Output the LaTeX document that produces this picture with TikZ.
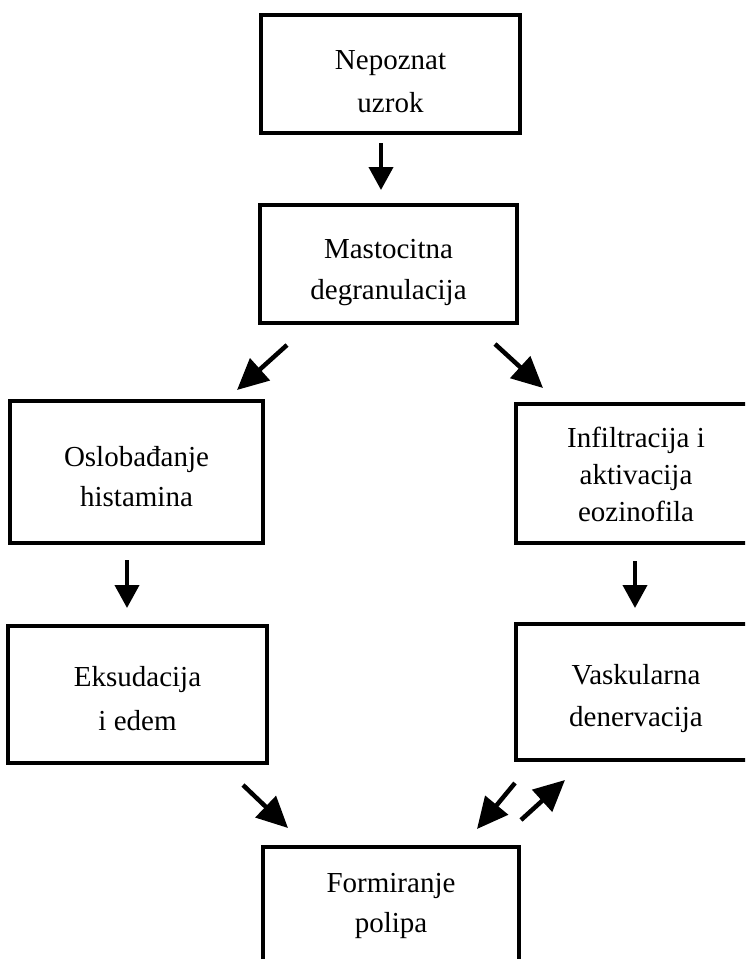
\documentclass[tikz,border=0pt]{standalone}
\usepackage{fontspec}
\setmainfont{Liberation Serif}
\usetikzlibrary{arrows.meta}
\begin{document}
\begin{tikzpicture}[x=1pt,y=-1pt,
  box/.style={draw, line width=3.2pt, inner sep=0pt, align=center, text depth=0pt, font=\fontsize{29}{42}\selectfont},
  dn/.style={-{Triangle[length=23pt,width=24pt]}, line width=4pt},
  dg/.style={-{Triangle[length=31pt,width=29pt]}, line width=4.5pt}]
\useasboundingbox (0,0) rectangle (745,959);
\clip (0,0) rectangle (745,959);
\fill[white] (0,0) rectangle (745,959);
% boxes
\node[box, minimum width=259pt, minimum height=118pt, text height=76pt, font=\fontsize{29}{43}\selectfont] (n1) at (390.5,74) {Nepoznat\\uzrok};
\node[box, minimum width=257pt, minimum height=118pt, text height=70pt, font=\fontsize{29}{41}\selectfont] (n2) at (388.5,264) {Mastocitna\\degranulacija};
\node[box, minimum width=253pt, minimum height=142pt, text height=68pt, font=\fontsize{29}{40}\selectfont] (n3) at (136.5,472) {Oslobađanje\\histamina};
\node[box, minimum width=240pt, minimum height=139pt, text height=96pt, font=\fontsize{29}{37}\selectfont] (n4) at (636,473.5) {Infiltracija i\\aktivacija\\eozinofila};
\node[box, minimum width=259pt, minimum height=137pt, text height=71pt, font=\fontsize{29}{44}\selectfont] (n5) at (137.5,694.5) {Eksudacija\\i edem};
\node[box, minimum width=240pt, minimum height=136pt, text height=68pt, font=\fontsize{29}{42}\selectfont] (n6) at (636,692) {Vaskularna\\denervacija};
\node[box, minimum width=256pt, minimum height=119pt, text height=52pt, font=\fontsize{29}{40}\selectfont] (n7) at (391,906.5) {Formiranje\\polipa};
% arrow end points
\coordinate (a1s) at (381,143); \coordinate (a1e) at (381,190);
\coordinate (a2s) at (287,345); \coordinate (a2e) at (237,390);
\coordinate (a3s) at (495,344); \coordinate (a3e) at (543,388);
\coordinate (a4s) at (127,560); \coordinate (a4e) at (127,608);
\coordinate (a5s) at (635,561); \coordinate (a5e) at (635,608);
\coordinate (a6s) at (243,785); \coordinate (a6e) at (288,828);
\coordinate (a7s) at (515,783); \coordinate (a7e) at (477,829);
\coordinate (a8s) at (521,820); \coordinate (a8e) at (565,780);
% arrows
\draw[dn] (a1s) -- (a1e);
\draw[dg] (a2s) -- (a2e);
\draw[dg] (a3s) -- (a3e);
\draw[dn] (a4s) -- (a4e);
\draw[dn] (a5s) -- (a5e);
\draw[dg] (a6s) -- (a6e);
\draw[dg] (a7s) -- (a7e);
\draw[dg] (a8s) -- (a8e);
\end{tikzpicture}
\end{document}
